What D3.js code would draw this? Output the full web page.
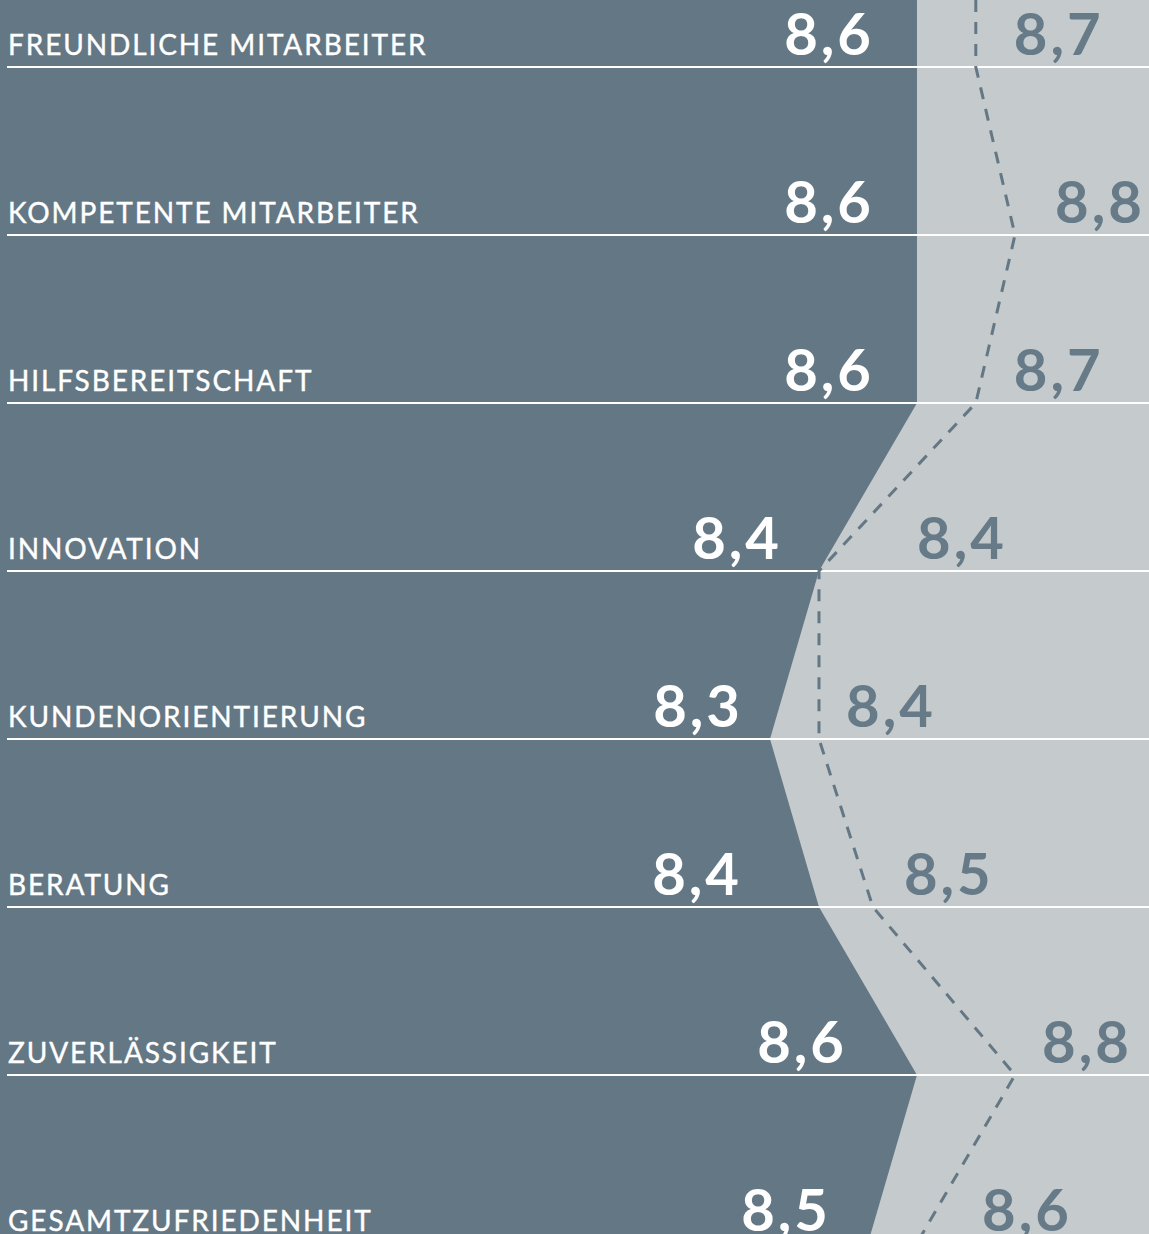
<!DOCTYPE html>
<html>
<head>
<meta charset="utf-8">
<script src="https://cdn.jsdelivr.net/npm/d3@7"></script>
<style>
  body { margin: 0; background: #c5cacd; }
  svg { display: block; }
</style>
</head>
<body>
<div id="chart"></div>
<script>
// categories, top to bottom
const categories = [
  "FREUNDLICHE MITARBEITER",
  "KOMPETENTE MITARBEITER",
  "HILFSBEREITSCHAFT",
  "INNOVATION",
  "KUNDENORIENTIERUNG",
  "BERATUNG",
  "ZUVERLÄSSIGKEIT",
  "GESAMTZUFRIEDENHEIT"
];
// current values (dark area)
const current = [8.6, 8.6, 8.6, 8.4, 8.3, 8.4, 8.6, 8.5];
// comparison values (dashed line)
const comparison = [8.72, 8.8, 8.72, 8.4, 8.4, 8.51, 8.8, 8.6];
const comparisonLabels = ["8,7", "8,8", "8,7", "8,4", "8,4", "8,5", "8,8", "8,6"];

// label nudges in px (layout only)
const darkShift = [43, 43, 43, 37, 27, 77, 70, 37];
const lightShift = [38, 40, 38, 98, 27, 31, 27, 65];

const W = 1149, H = 1234;
const dark = "#647784", light = "#c5cacd";

const svg = d3.select("#chart").append("svg")
    .attr("width", W)
    .attr("height", H);

const x = d3.scaleLinear().domain([8.3, 8.8]).range([770, 1015]);
const y = d3.scalePoint().domain(categories).range([67, 1243]);

const fmt = v => d3.format(".1f")(v).replace(".", ",");

svg.append("rect").attr("width", W).attr("height", H).attr("fill", light);

// dark area, start at top with first value
const areaData = [{v: current[0], y: 0}].concat(current.map((v, i) => ({v: v, y: y(categories[i])})));
const area = d3.area()
    .x0(0)
    .x1(d => x(d.v))
    .y(d => d.y);
svg.append("path")
    .datum(areaData)
    .attr("d", area)
    .attr("fill", dark);

// row lines
svg.selectAll(".row-line")
  .data(categories)
  .join("line")
    .attr("x1", 7)
    .attr("x2", W)
    .attr("y1", d => y(d))
    .attr("y2", d => y(d))
    .attr("stroke", "#fff")
    .attr("stroke-width", 2);

// dashed comparison line
const lineData = [{v: comparison[0], y: 0}].concat(comparison.map((v, i) => ({v: v, y: y(categories[i])})));
svg.append("path")
    .datum(lineData)
    .attr("d", d3.line().x(d => x(d.v)).y(d => d.y))
    .attr("fill", "none")
    .attr("stroke", dark)
    .attr("stroke-width", 3)
    .attr("stroke-dasharray", "12,10");

// category labels
svg.selectAll(".cat")
  .data(categories)
  .join("text")
    .attr("x", 8)
    .attr("y", d => y(d) - 12)
    .attr("fill", "#fff")
    .attr("stroke", "#fff")
    .attr("stroke-width", 0.4)
    .attr("font-family", "Lato, sans-serif")
    .attr("font-size", 28)
    .attr("letter-spacing", 1.9)
    .text(d => d);

// current value labels
svg.selectAll(".cur")
  .data(current)
  .join("text")
    .attr("x", (d, i) => x(d) - darkShift[i])
    .attr("y", (d, i) => y(categories[i]) - 12)
    .attr("text-anchor", "end")
    .attr("fill", "#fff")
    .attr("font-family", "Lato, sans-serif")
    .attr("font-weight", "bold")
    .attr("font-size", 58)
    .attr("letter-spacing", 3)
    .text(d => fmt(d));

// comparison value labels
svg.selectAll(".cmp")
  .data(comparison)
  .join("text")
    .attr("x", (d, i) => x(d) + lightShift[i])
    .attr("y", (d, i) => y(categories[i]) - 12)
    .attr("fill", "#667b87")
    .attr("font-family", "Lato, sans-serif")
    .attr("font-weight", "bold")
    .attr("font-size", 58)
    .attr("letter-spacing", 3)
    .text((d, i) => comparisonLabels[i]);
</script>
</body>
</html>
